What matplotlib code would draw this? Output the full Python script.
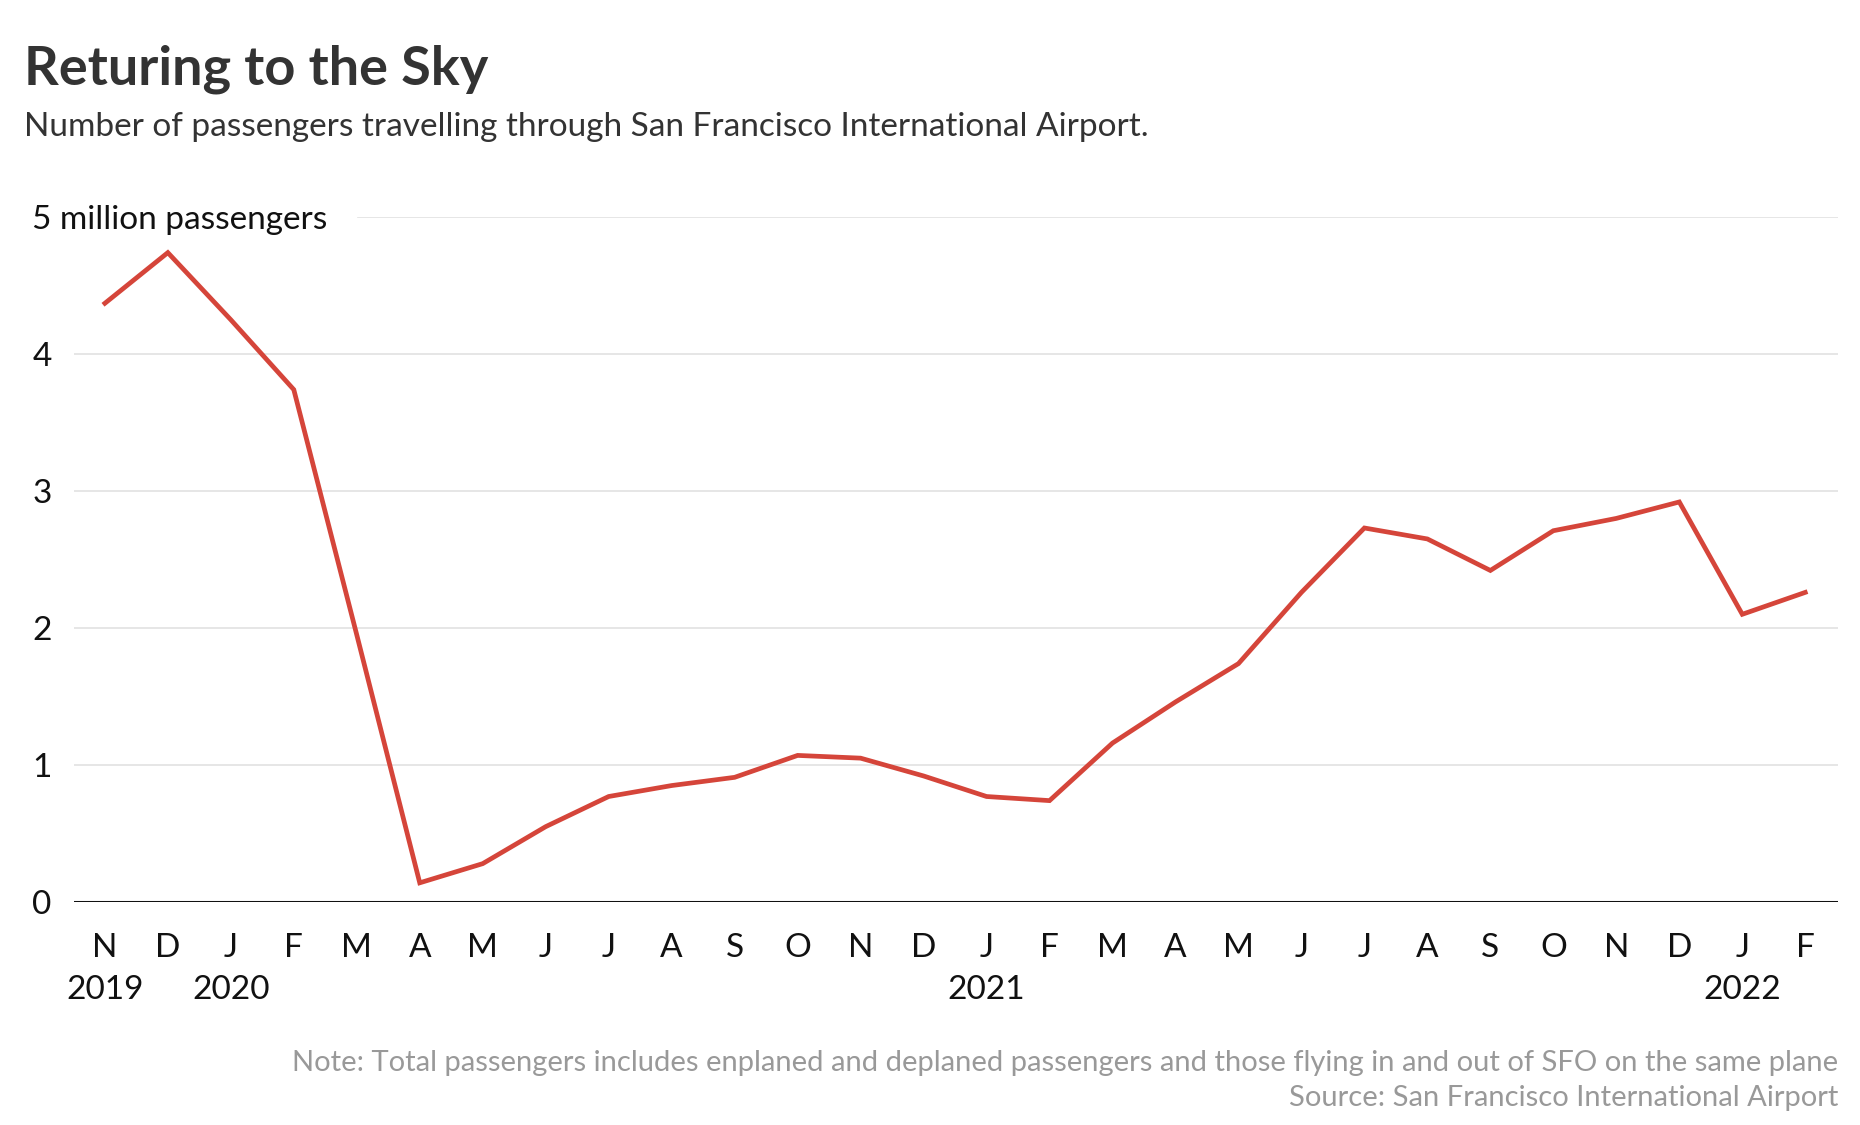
import matplotlib
matplotlib.use('Agg')
import matplotlib.pyplot as plt

plt.rcParams['font.family'] = ['Lato', 'DejaVu Sans']

# monthly passengers, millions (Nov 2019 - Feb 2022)
months = ['N', 'D', 'J', 'F', 'M', 'A', 'M', 'J', 'J', 'A', 'S', 'O', 'N', 'D',
          'J', 'F', 'M', 'A', 'M', 'J', 'J', 'A', 'S', 'O', 'N', 'D', 'J', 'F']
years = {0: '2019', 2: '2020', 14: '2021', 26: '2022'}
passengers = [4.37, 4.74, 4.25, 3.74, 1.95, 0.14, 0.28, 0.55, 0.77, 0.85, 0.91, 1.07, 1.05, 0.92,
              0.77, 0.74, 1.16, 1.46, 1.74, 2.26, 2.73, 2.65, 2.42, 2.71, 2.80, 2.92, 2.10, 2.26]
yticks = [0, 1, 2, 3, 4, 5]
ylabels = ['0', '1', '2', '3', '4', '5 million passengers']

W, H = 1860, 1125
fig = plt.figure(figsize=(W / 100, H / 100), dpi=100)
ax = fig.add_axes([74 / W, (H - 902) / H, (1838 - 74) / W, (902 - 217) / H])

x = list(range(len(passengers)))
ax.plot(x, passengers, color='#d5453a', lw=3.4, solid_joinstyle='miter', zorder=3)

ax.set_xlim(-0.49, 27.52)
ax.set_ylim(0, 5)

# gridlines (top one starts after its label)
for v in yticks[1:]:
    ax.axhline(v, xmin=0.161 if v == 5 else 0, xmax=1, color='#e2e2e2', lw=1.2, zorder=1)
ax.axhline(0, color='#111111', lw=2.2, zorder=4)

for s in ax.spines.values():
    s.set_visible(False)

ax.set_yticks(yticks)
ax.set_yticklabels(ylabels)
ax.tick_params(axis='y', length=0, pad=30, labelsize=24, labelcolor='#111111')
for lab in ax.get_yticklabels():
    lab.set_horizontalalignment('left')

xlabels = [m + ('\n' + years[i] if i in years else '') for i, m in enumerate(months)]
ax.set_xticks(x)
ax.set_xticklabels(xlabels, linespacing=1.5)
ax.tick_params(axis='x', length=0, pad=22, labelsize=24, labelcolor='#111111')

fig.text(24 / W, 1 - 85 / H, 'Returing to the Sky', fontsize=39, fontweight='bold',
         color='#333333', ha='left', va='baseline')
fig.text(24 / W, 1 - 136 / H,
         'Number of passengers travelling through San Francisco International Airport.',
         fontsize=24, color='#333333', ha='left', va='baseline')

fig.text(1838 / W, 1 - 1071 / H,
         'Note: Total passengers includes enplaned and deplaned passengers and those flying in and out of SFO on the same plane',
         fontsize=21, color='#999999', ha='right', va='baseline')
fig.text(1838 / W, 1 - 1106 / H, 'Source: San Francisco International Airport',
         fontsize=21, color='#999999', ha='right', va='baseline')

fig.savefig('out.png', dpi=100, facecolor='white')
